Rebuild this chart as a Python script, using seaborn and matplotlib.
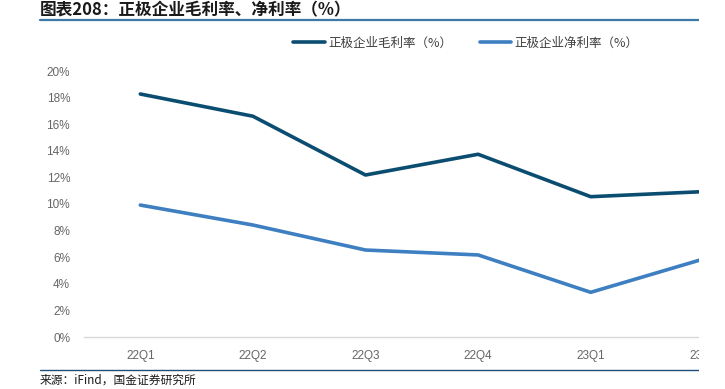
import pandas as pd
import matplotlib
matplotlib.use("Agg")
import matplotlib.pyplot as plt
import seaborn as sns
from matplotlib.lines import Line2D
from matplotlib.patches import Rectangle
from matplotlib.ticker import FixedLocator, PercentFormatter

sns.set_style("white")
plt.rcParams['font.family'] = ['Noto Sans CJK SC', 'DejaVu Sans']

# data
quarters = ["22Q1", "22Q2", "22Q3", "22Q4", "23Q1", "23Q2"]
gross_margin = [18.27, 16.6, 12.18, 13.74, 10.55, 10.93]
net_margin = [9.92, 8.42, 6.54, 6.17, 3.36, 5.86]
series_names = ["正极企业毛利率（%）", "正极企业净利率（%）"]
colors = ["#0b4d71", "#3d7fc1"]

df = pd.DataFrame({
    "quarter": quarters * 2,
    "value": gross_margin + net_margin,
    "series": [series_names[0]] * len(quarters) + [series_names[1]] * len(quarters),
})

W, H = 725, 389
fig = plt.figure(figsize=(W / 100, H / 100), dpi=100)
ax = fig.add_axes([84 / W, (H - 337) / H, 675.6 / W, 266 / H])

sns.lineplot(data=df, x="quarter", y="value", hue="series", palette=colors,
             sort=False, linewidth=2.6, ax=ax, legend=False)

ax.set_xlim(-0.5, 5.5)
ax.set_ylim(0, 20)
ax.set_yticks(range(0, 21, 2))
ax.yaxis.set_major_formatter(PercentFormatter(decimals=0))
ax.set_xlabel("")
ax.set_ylabel("")
for s in ["top", "right", "left"]:
    ax.spines[s].set_visible(False)
ax.spines["bottom"].set_color("#d9d9d9")
ax.spines["bottom"].set_linewidth(1.0)
ax.tick_params(axis="y", length=0, pad=10, labelsize=8.5, labelcolor="#666666")
ax.tick_params(axis="x", which="major", length=0, pad=9, labelsize=8.5, labelcolor="#666666")
ax.xaxis.set_minor_locator(FixedLocator([i - 0.5 for i in range(len(quarters) + 1)]))
ax.tick_params(axis="x", which="minor", direction="in", length=3, color="#d9d9d9")
for lbl in ax.get_xticklabels() + ax.get_yticklabels():
    lbl.set_family(["Liberation Sans", "DejaVu Sans"])

handles = [Line2D([], [], color=c, lw=2.6) for c in colors]
fig.legend(handles, series_names, loc="center", bbox_to_anchor=(466 / W, 1 - 43 / H),
           ncol=2, frameon=False, handlelength=2.5, handletextpad=0.3,
           columnspacing=2.2, prop={"size": 9}, labelcolor="#404040")

# cropped right edge as in the reference
fig.patches.append(Rectangle((699 / W, 0), 1, 1, transform=fig.transFigure,
                             facecolor="white", edgecolor="none", zorder=5))

fig.text(40 / W, 1 - 10 / H, "图表208：正极企业毛利率、净利率（%）", fontsize=12,
         fontweight="bold", style="italic", va="center", ha="left", color="#1a1a1a")
fig.add_artist(Line2D([40 / W, 699 / W], [1 - 20 / H, 1 - 20 / H], color="#3c78a8",
                      lw=1.6, transform=fig.transFigure))
fig.add_artist(Line2D([40 / W, 699 / W], [1 - 370 / H, 1 - 370 / H], color="#1f4e79",
                      lw=1.0, transform=fig.transFigure))
fig.text(40 / W, 1 - 380 / H, "来源：iFind，国金证券研究所", fontsize=8.5,
         va="center", ha="left", color="#1a1a1a")

fig.savefig("out.png", dpi=100)
